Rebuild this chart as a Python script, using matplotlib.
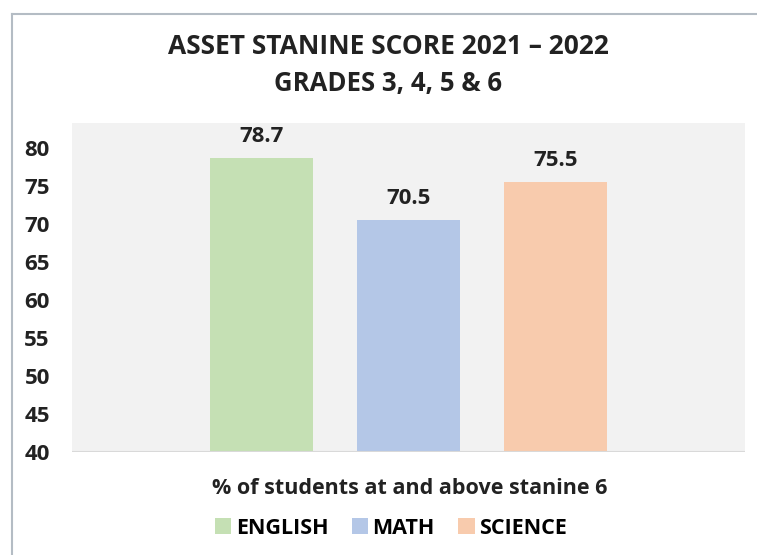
import numpy as np
import matplotlib.pyplot as plt
from matplotlib.lines import Line2D
from matplotlib.patches import Patch

subjects = ['ENGLISH', 'MATH', 'SCIENCE']
scores = [78.7, 70.5, 75.5]
colors = ['#c5e0b4', '#b4c7e7', '#f8cbad']
yticks = [40, 45, 50, 55, 60, 65, 70, 75, 80]

plt.rcParams['font.family'] = ['Open Sans', 'DejaVu Sans']
plt.rcParams['font.weight'] = 'bold'

fig = plt.figure(figsize=(7.57, 5.55), dpi=100)
ax = fig.add_axes([72 / 757, 1 - 452 / 555, 673 / 757, 329 / 555])

x = np.arange(len(subjects))
bars = ax.bar(x, scores, width=0.7, color=colors, bottom=0)
for b, v in zip(bars, scores):
    ax.text(b.get_x() + b.get_width() / 2, v + 1.5, f'{v}', ha='center', va='bottom',
            fontsize=16, fontweight='bold', color='#222222')

ax.set_xlim(-1.29, 3.29)
ax.set_ylim(40, 83.3)
ax.set_yticks(yticks)
ax.set_yticklabels([str(t) for t in yticks], fontsize=16, fontweight='bold', color='#222222')
ax.set_xticks([])
ax.tick_params(axis='y', length=0, pad=16)
ax.set_facecolor('#f2f2f2')
for s in ax.spines.values():
    s.set_visible(False)
ax.axhline(40, color='#d9d9d9', lw=1.5)

fig.text(388 / 757, 1 - 46 / 555, 'ASSET STANINE SCORE 2021 – 2022', ha='center', va='center',
         fontsize=19, fontweight='bold', color='#222222')
fig.text(388 / 757, 1 - 84 / 555, 'GRADES 3, 4, 5 & 6', ha='center', va='center',
         fontsize=18.5, fontweight='bold', color='#222222')
fig.text(410 / 757, 1 - 488 / 555, '% of students at and above stanine 6', ha='center', va='center',
         fontsize=15.5, fontweight='bold', color='#222222')

handles = [Patch(facecolor=c, edgecolor='none') for c in colors]
fig.legend(handles, subjects, loc='center', bbox_to_anchor=(391 / 757, 1 - 528 / 555), ncol=3,
           frameon=False, handlelength=0.75, handleheight=0.75, handletextpad=0.2,
           columnspacing=1.1, prop={'weight': 'bold', 'size': 15.5})

# outer chart frame (cropped at right and bottom)
fig.add_artist(Line2D([12 / 757, 1.0], [1 - 14 / 555, 1 - 14 / 555], color='#b4bcc4', lw=1.5))
fig.add_artist(Line2D([12 / 757, 12 / 757], [0.0, 1 - 14 / 555], color='#b4bcc4', lw=1.5))

fig.savefig('out.png', dpi=100)
